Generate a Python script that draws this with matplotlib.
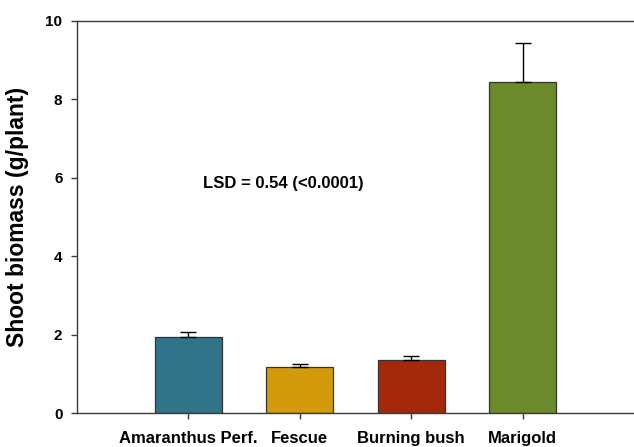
import matplotlib

matplotlib.use("Agg")
import matplotlib.pyplot as plt
import numpy as np

plt.rcParams["font.family"] = ["Liberation Sans", "DejaVu Sans"]

species = ["Amaranthus Perf.", "Fescue", "Burning bush", "Marigold"]
biomass = [1.94, 1.18, 1.36, 8.43]
biomass_se = [0.14, 0.08, 0.09, 1.00]
bar_colors = ["#31748a", "#d39a0c", "#a3290a", "#6b8a2b"]

AXIS_GREY = "#3a3a3a"

fig = plt.figure(figsize=(6.34, 4.47), dpi=100)
ax = fig.add_axes([0.1215, 0.0754, 0.8785, 0.8783])

x = np.arange(1, len(species) + 1)
ax.bar(x, biomass, width=0.6, color=bar_colors, edgecolor="#333333", linewidth=0.9, zorder=2)
ax.errorbar(x, biomass, yerr=[np.zeros(len(x)), biomass_se], fmt="none",
            ecolor="black", elinewidth=1, capsize=6, capthick=1, zorder=3)

ax.text(1.85, 5.85, "LSD = 0.54 (<0.0001)", ha="center", va="center",
        fontsize=12, fontweight="bold")

ax.set_xlim(0, 5)
ax.set_ylim(0, 10)
ax.set_yticks([0, 2, 4, 6, 8, 10])
ax.set_xticks(x)
ax.set_xticklabels(species, fontsize=12, fontweight="bold")
for lab in ax.get_yticklabels():
    lab.set_fontweight("bold")
    lab.set_fontsize(11)
ax.set_ylabel("Shoot biomass (g/plant)", fontsize=16.5, fontweight="bold", labelpad=12)

ax.spines["right"].set_visible(False)
for side in ("left", "bottom", "top"):
    ax.spines[side].set_color(AXIS_GREY)
    ax.spines[side].set_linewidth(1.0)
ax.tick_params(axis="both", direction="out", color=AXIS_GREY, length=4.5, width=1)
ax.tick_params(axis="x", pad=8)
ax.tick_params(axis="y", pad=6)

fig.savefig("out.png", dpi=100)
